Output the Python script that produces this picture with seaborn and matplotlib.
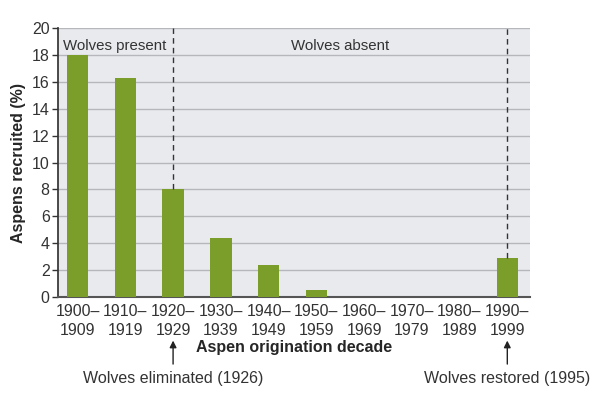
import matplotlib
matplotlib.use("Agg")
import matplotlib.pyplot as plt
import pandas as pd
import seaborn as sns

decades = ["1900–\n1909", "1910–\n1919", "1920–\n1929", "1930–\n1939", "1940–\n1949",
           "1950–\n1959", "1960–\n1969", "1970–\n1979", "1980–\n1989", "1990–\n1999"]
recruited = [18.0, 16.3, 8.0, 4.4, 2.4, 0.5, 0.0, 0.0, 0.0, 2.9]
yticks = list(range(0, 21, 2))

sns.set_theme(style="white")
plt.rcParams["font.family"] = ["Liberation Sans", "DejaVu Sans"]

df = pd.DataFrame({"decade": decades, "recruited": recruited})

fig = plt.figure(figsize=(6, 3.97), dpi=100)
ax = fig.add_axes([0.0967, 0.252, 0.787, 0.677])
ax.set_facecolor("#e9eaee")

sns.barplot(data=df, x="decade", y="recruited", color="#7b9e2a", saturation=1,
            width=0.45, edgecolor="none", linewidth=0, ax=ax, zorder=3)

for y in yticks[1:]:
    ax.axhline(y, color="#b5b7bc", lw=1, zorder=1)

ax.set_ylim(0, 20)
ax.set_xlim(-0.41, 9.48)
ax.set_yticks(yticks)
ax.tick_params(axis="y", direction="out", length=4, width=1, color="#333333",
               labelsize=11.5, labelcolor="#333333", pad=2, left=True)
ax.tick_params(axis="x", length=0, bottom=False, labelsize=11.5, labelcolor="#333333", pad=5)
for lbl in ax.get_xticklabels():
    lbl.set_linespacing(1.3)

ax.set_xlabel("Aspen origination decade", fontsize=11.5, fontweight="bold", labelpad=2)
ax.set_ylabel("Aspens recruited (%)", fontsize=11.5, fontweight="bold", labelpad=4)

for side in ["top", "right"]:
    ax.spines[side].set_visible(False)
ax.spines["left"].set_color("#333333")
ax.spines["bottom"].set_color("#555555")
ax.spines["bottom"].set_linewidth(1.5)

# dashed markers for wolf removal and return
ax.vlines(2, recruited[2], 20, colors="#333333", linestyles=(0, (4, 3)), lw=1, zorder=4)
ax.vlines(9, recruited[9], 20, colors="#333333", linestyles=(0, (4, 3)), lw=1, zorder=4)

ax.text(0.77, 18.7, "Wolves present", ha="center", va="center", fontsize=10.8, color="#333333")
ax.text(5.5, 18.7, "Wolves absent", ha="center", va="center", fontsize=10.8, color="#333333")

arrow = dict(arrowstyle="-|>", color="#222222", lw=1, mutation_scale=10)
ax.annotate("", xy=(2, -0.152), xycoords=("data", "axes fraction"),
            xytext=(2, -0.26), textcoords=("data", "axes fraction"), arrowprops=arrow)
ax.annotate("", xy=(9, -0.152), xycoords=("data", "axes fraction"),
            xytext=(9, -0.26), textcoords=("data", "axes fraction"), arrowprops=arrow)
ax.text(2, -0.305, "Wolves eliminated (1926)", transform=ax.get_xaxis_transform(),
        ha="center", va="center", fontsize=11.5, color="#333333")
ax.text(9, -0.305, "Wolves restored (1995)", transform=ax.get_xaxis_transform(),
        ha="center", va="center", fontsize=11.5, color="#333333")

fig.savefig("out.png", dpi=100)
